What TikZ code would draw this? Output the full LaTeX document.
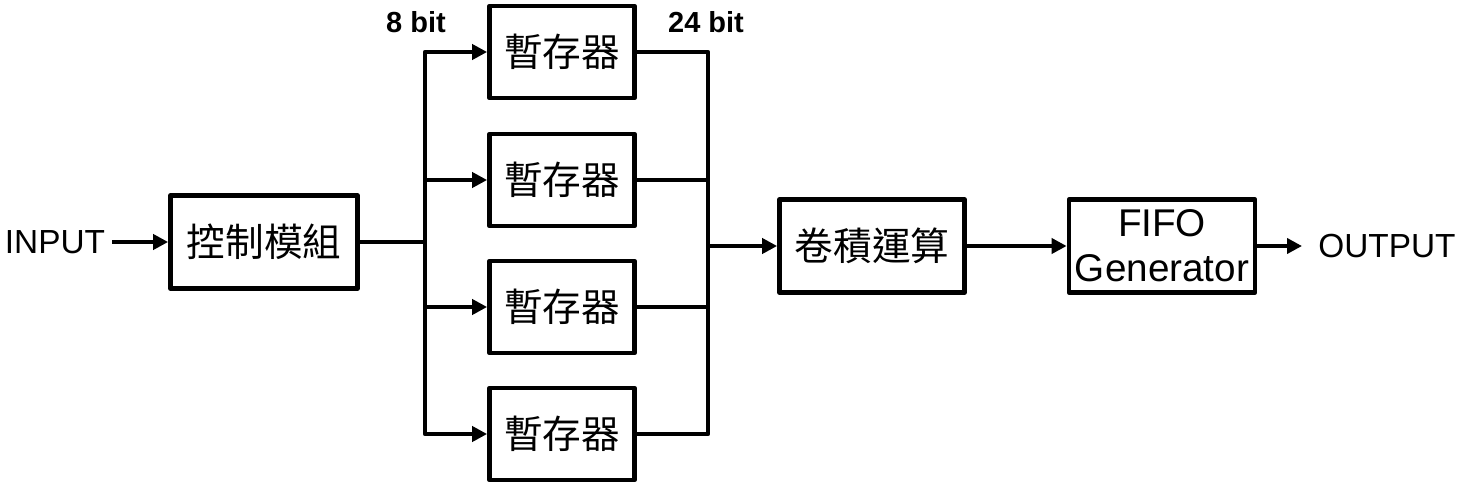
\documentclass[tikz,border=0pt]{standalone}
\usepackage{fontspec}
\setmainfont{Liberation Sans}
\newfontfamily\cjk{Noto Sans CJK TC}
\usetikzlibrary{arrows.meta}
\begin{document}
\begin{tikzpicture}[x=0.02cm, y=-0.02cm, line width=2.7pt, line join=round,
  blk/.style={draw, inner sep=0pt, minimum width=3.74cm, minimum height=1.86cm, font=\cjk\fontsize{22}{26}\selectfont},
  reg/.style={blk, minimum width=2.9cm, minimum height=1.84cm},
  io/.style={inner sep=0pt, font=\fontsize{19}{23}\selectfont},
  bits/.style={inner sep=0pt, font=\bfseries\fontsize{16.5}{19}\selectfont},
  arr/.style={-{Triangle[length=0.3cm, width=0.3cm]}}]
\useasboundingbox (0,0) rectangle (1457,490);
\node[io, inner xsep=0.1cm] (in) at (55,242) {INPUT};
\node[blk] (ctrl) at (264,242) {控制模組};
\node[reg] (reg1) at (562,52) {暫存器};
\node[reg] (reg2) at (562,180) {暫存器};
\node[reg] (reg3) at (562,307) {暫存器};
\node[reg] (reg4) at (562,434) {暫存器};
\node[blk, minimum width=3.7cm] (conv) at (872,246) {卷積運算};
\node[blk, minimum width=3.72cm, align=center, font=\fontsize{22}{25.5}\selectfont] (fifo) at (1162,246) {FIFO\\Generator};
\node[io, inner xsep=0.28cm] (out) at (1387,246) {OUTPUT};
\node[bits] (lbl8) at (416,22) {8 bit};
\node[bits] (lbl24) at (706,22) {24 bit};
\coordinate (split) at (425,242);
\coordinate (merge) at (708,246);
\draw[arr] (in) -- (ctrl);
\draw (ctrl) -- (split);
\draw[arr] (split) |- (reg1);
\draw[arr] (split) |- (reg2);
\draw[arr] (split) |- (reg3);
\draw[arr] (split) |- (reg4);
\draw (reg1) -| (merge);
\draw (reg2) -| (merge);
\draw (reg3) -| (merge);
\draw (reg4) -| (merge);
\draw[arr] (merge) -- (conv);
\draw[arr] (conv) -- (fifo);
\draw[arr] (fifo) -- (out);
\end{tikzpicture}
\end{document}
